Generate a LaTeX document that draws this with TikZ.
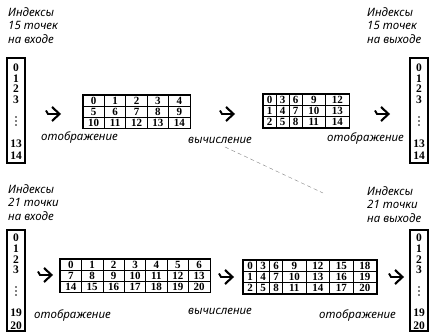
\documentclass[tikz,border=0pt]{standalone}
\usepackage{fontspec}
\setmainfont{Noto Sans}
\newfontfamily\numfont{Liberation Serif}
\usetikzlibrary{matrix}
\tikzset{
  lbl/.style={font=\fontsize{11.5}{13.5}\selectfont\itshape, inner sep=0pt, align=left},
  num/.style={font=\fontsize{11.5}{11.5}\selectfont\numfont\bfseries, inner sep=0pt},
  colbox/.style={draw, line width=1.3pt, minimum width=18pt, inner sep=0pt},
  grid/.style={matrix of nodes, inner sep=0pt, column sep=-0.8pt, row sep=-0.8pt,
    nodes={draw, line width=0.8pt, minimum height=11pt, minimum width=21.4pt,
      inner sep=0pt, text height=7.5pt, text depth=0pt,
      font=\fontsize{11}{11}\selectfont\numfont\bfseries}},
  narrow/.style={nodes={minimum width=13pt}},
  wide/.style={nodes={minimum width=23.5pt}},
  frame/.style={line width=1.4pt},
  vdot/.style={fill, circle, inner sep=0pt, minimum size=1.6pt},
  pics/bigarrow/.style={code={
    \draw[line width=2.1pt, line join=miter] (-1,7) -- (6.5,0) -- (-1,-7);
    \draw[line width=1.9pt] (-7,3.5) -- (-5,0) -- (5,0);
  }},
}
\begin{document}
\begin{tikzpicture}[x=1pt,y=1pt]
\useasboundingbox[fill=white] (0,0) rectangle (434,334);

% ---------------- top row ----------------
\node[lbl, anchor=north west] (tinl) at (8,327) {Индексы\\15 точек\\на входе};
\node[colbox, minimum height=105pt] (tin) at (16,223.5) {};
\node[num] (ti0) at (16,266) {0};
\node[num] (ti1) at (16,255.5) {1};
\node[num] (ti2) at (16,245) {2};
\node[num] (ti3) at (16,234.5) {3};
\node[vdot] (tid1) at (16,217) {};
\node[vdot] (tid2) at (16,213) {};
\node[vdot] (tid3) at (16,209) {};
\node[num] (ti13) at (16,190) {13};
\node[num] (ti14) at (16,178) {14};

\pic (ta1) at (53,220) {bigarrow};
\node[lbl, anchor=west] (tmap1) at (41,197) {отображение};

\matrix[grid] (tm1) at (136.5,222.5) {
0 & 1 & 2 & 3 & 4 \\
5 & 6 & 7 & 8 & 9 \\
10 & 11 & 12 & 13 & 14 \\
};
\draw[frame] (tm1.north west) rectangle (tm1.south east);

\node[lbl, anchor=west] (tcalc) at (188,194) {вычисление};
\pic (ta2) at (227,220) {bigarrow};

\matrix[grid, column 1/.style=narrow, column 2/.style=narrow, column 3/.style=narrow,
        column 4/.style=wide, column 5/.style=wide] (tm2) at (306,223) {
0 & 3 & 6 & 9 & 12 \\
1 & 4 & 7 & 10 & 13 \\
2 & 5 & 8 & 11 & 14 \\
};
\draw[frame] (tm2.north west) rectangle (tm2.south east);

\pic (ta3) at (382,220) {bigarrow};
\node[lbl, anchor=east] (tmap2) at (404,196) {отображение};

\node[lbl, anchor=north west] (toutl) at (367,327) {Индексы\\15 точек\\на выходе};
\node[colbox, minimum height=105pt] (tout) at (419,223.5) {};
\node[num] (to0) at (419,266) {0};
\node[num] (to1) at (419,255.5) {1};
\node[num] (to2) at (419,245) {2};
\node[num] (to3) at (419,234.5) {3};
\node[vdot] (tod1) at (419,217) {};
\node[vdot] (tod2) at (419,213) {};
\node[vdot] (tod3) at (419,209) {};
\node[num] (to13) at (419,190) {13};
\node[num] (to14) at (419,178) {14};

% dashed stray line
\coordinate (dA) at (225,187);
\coordinate (dB) at (323,141);
\draw[line width=0.4pt, gray, dash pattern=on 4pt off 3pt] (dA) -- (dB);

% ---------------- bottom row ----------------
\node[lbl, anchor=north west] (binl) at (8,150) {Индексы\\21 точки\\на входе};
\node[colbox, minimum height=101pt] (bin) at (16,53.5) {};
\node[num] (bi0) at (16,96) {0};
\node[num] (bi1) at (16,85) {1};
\node[num] (bi2) at (16,74.5) {2};
\node[num] (bi3) at (16,64) {3};
\node[vdot] (bid1) at (16,47) {};
\node[vdot] (bid2) at (16,43) {};
\node[vdot] (bid3) at (16,39) {};
\node[num] (bi19) at (16,21) {19};
\node[num] (bi20) at (16,8.5) {20};

\pic (ba1) at (45,59) {bigarrow};
\node[lbl, anchor=west] (bmap1) at (34,19) {отображение};

\matrix[grid] (bm1) at (135,58.5) {
0 & 1 & 2 & 3 & 4 & 5 & 6 \\
7 & 8 & 9 & 10 & 11 & 12 & 13 \\
14 & 15 & 16 & 17 & 18 & 19 & 20 \\
};
\draw[frame] (bm1.north west) rectangle (bm1.south east);

\pic (ba2) at (226,57) {bigarrow};
\node[lbl, anchor=west] (bcalc) at (188,23) {вычисление};

\matrix[grid, column 1/.style=narrow, column 2/.style=narrow, column 3/.style=narrow,
        column 4/.style=wide, column 5/.style=wide, column 6/.style=wide,
        column 7/.style=wide] (bm2) at (310,57) {
0 & 3 & 6 & 9 & 12 & 15 & 18 \\
1 & 4 & 7 & 10 & 13 & 16 & 19 \\
2 & 5 & 8 & 11 & 14 & 17 & 20 \\
};
\draw[frame] (bm2.north west) rectangle (bm2.south east);

\pic (ba3) at (396,57) {bigarrow};
\node[lbl, anchor=east] (bmap2) at (396,19) {отображение};

\node[lbl, anchor=north west] (boutl) at (367,148) {Индексы\\21 точки\\на выходе};
\node[colbox, minimum height=101pt] (bout) at (419,53.5) {};
\node[num] (bo0) at (419,96) {0};
\node[num] (bo1) at (419,85) {1};
\node[num] (bo2) at (419,74.5) {2};
\node[num] (bo3) at (419,64) {3};
\node[vdot] (bod1) at (419,47) {};
\node[vdot] (bod2) at (419,43) {};
\node[vdot] (bod3) at (419,39) {};
\node[num] (bo19) at (419,21) {19};
\node[num] (bo20) at (419,8.5) {20};
\end{tikzpicture}
\end{document}
